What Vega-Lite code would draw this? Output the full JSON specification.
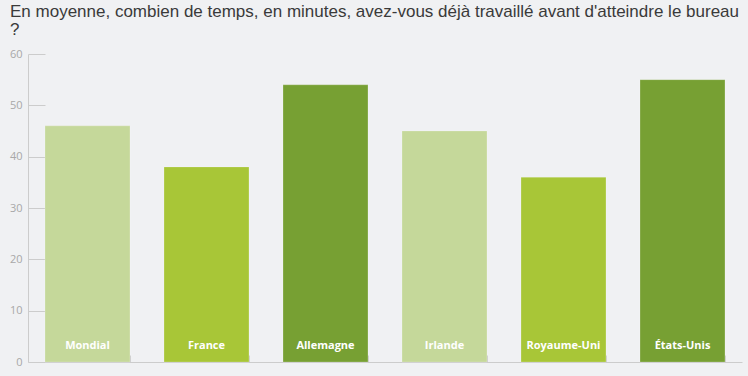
{
  "$schema": "https://vega.github.io/schema/vega-lite/v6.json",
  "width": 714,
  "height": 308,
  "autosize": {"type": "none"},
  "padding": {"left": 28, "top": 54, "right": 6, "bottom": 14},
  "background": "#f0f1f3",
  "view": {"stroke": null},
  "title": {
    "text": ["En moyenne, combien de temps, en minutes, avez-vous déjà travaillé avant d'atteindre le bureau", "?"],
    "anchor": "start",
    "frame": "group",
    "dx": -18,
    "offset": 9,
    "font": "Liberation Sans",
    "fontSize": 17,
    "fontWeight": "normal",
    "color": "#3a3a3a",
    "lineHeight": 18
  },
  "data": {
    "values": [
      {"pays": "Mondial", "minutes": 46},
      {"pays": "France", "minutes": 38},
      {"pays": "Allemagne", "minutes": 54},
      {"pays": "Irlande", "minutes": 45},
      {"pays": "Royaume-Uni", "minutes": 36},
      {"pays": "États-Unis", "minutes": 55}
    ]
  },
  "encoding": {
    "x": {
      "field": "pays",
      "type": "nominal",
      "sort": null,
      "scale": {"paddingInner": 0.286, "paddingOuter": 0.143},
      "axis": {
        "labels": false,
        "title": null,
        "domainColor": "#cccccc",
        "tickColor": "#cccccc",
        "tickSize": -7,
        "tickBand": "extent",
        "tickOffset": 17
      }
    }
  },
  "layer": [
    {
      "mark": {"type": "bar", "stroke": "white", "strokeOpacity": 0.2, "strokeWidth": 1},
      "encoding": {
        "y": {
          "field": "minutes",
          "type": "quantitative",
          "scale": {"domain": [0, 60]},
          "axis": {
            "values": [0, 10, 20, 30, 40, 50, 60],
            "grid": false,
            "title": null,
            "domainColor": "#cccccc",
            "tickColor": "#cccccc",
            "tickSize": -17,
            "labelColor": "#a8a8a8",
            "labelFont": "Open Sans",
            "labelFontSize": 11,
            "labelPadding": 23
          }
        },
        "color": {
          "field": "pays",
          "type": "nominal",
          "sort": null,
          "scale": {
            "domain": ["Mondial", "France", "Allemagne", "Irlande", "Royaume-Uni", "États-Unis"],
            "range": ["#c5d89a", "#a8c637", "#77a033", "#c5d89a", "#a8c637", "#77a033"]
          },
          "legend": null
        }
      }
    },
    {
      "mark": {"type": "text", "color": "white", "font": "Open Sans", "fontWeight": "bold", "fontSize": 11, "dy": -16},
      "encoding": {
        "y": {"datum": 0},
        "text": {"field": "pays"}
      }
    }
  ]
}
